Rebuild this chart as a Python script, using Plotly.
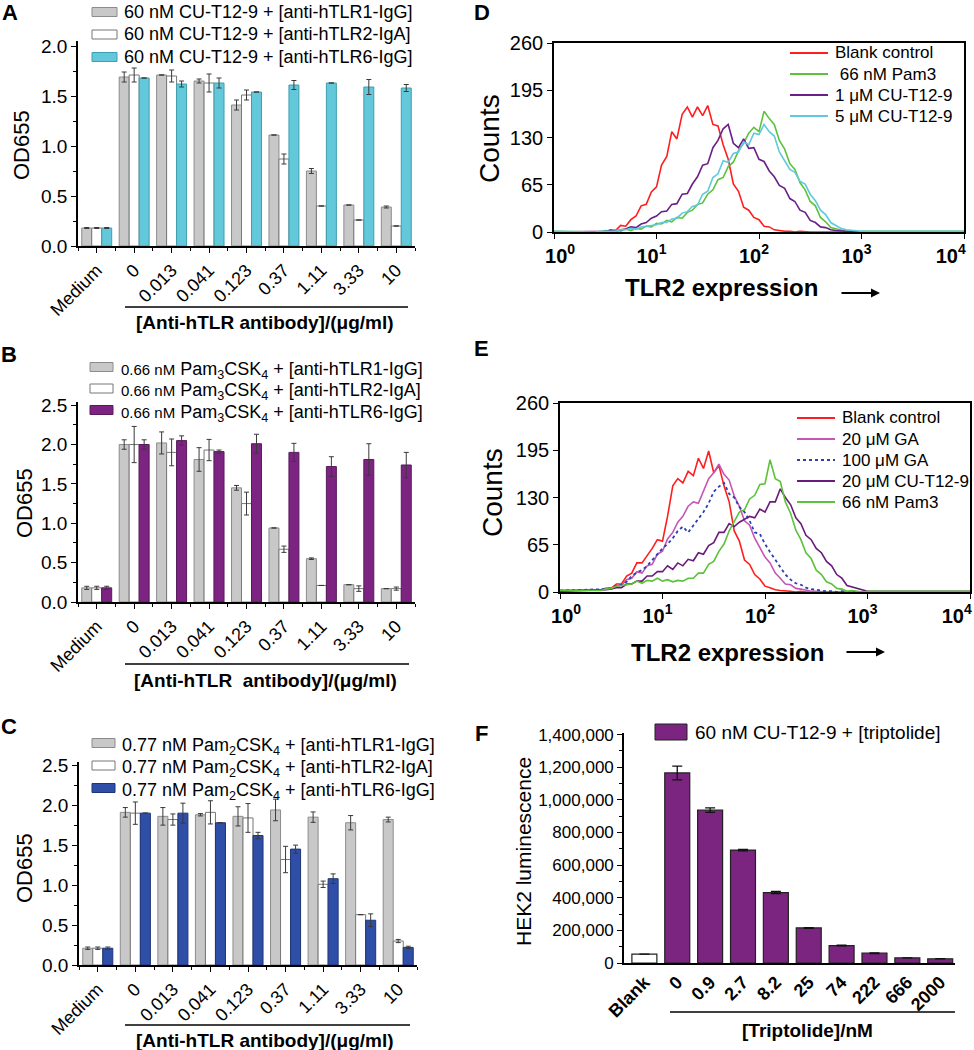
import plotly.graph_objects as go

W, H = 974, 1050
FONT = "Liberation Sans, Arial, sans-serif"

# ---------------- Data: panels A-C (OD655) ----------------
ANTIBODY_CATS = ["Medium", "0", "0.013", "0.041", "0.123", "0.37", "1.11", "3.33", "10"]

A_TLR1 = [0.18, 1.69, 1.71, 1.65, 1.41, 1.11, 0.75, 0.41, 0.39]
A_TLR1_ERR = [0.005, 0.05, 0.0, 0.02, 0.05, 0.0, 0.025, 0.0, 0.01]
A_TLR2 = [0.18, 1.71, 1.70, 1.63, 1.51, 0.87, 0.40, 0.26, 0.20]
A_TLR2_ERR = [0.005, 0.07, 0.06, 0.09, 0.05, 0.05, 0.0, 0.0, 0.0]
A_TLR6 = [0.18, 1.68, 1.62, 1.63, 1.54, 1.61, 1.63, 1.59, 1.58]
A_TLR6_ERR = [0.005, 0.0, 0.03, 0.05, 0.0, 0.045, 0.0, 0.075, 0.035]

B_TLR1 = [0.18, 2.00, 2.02, 1.81, 1.45, 0.94, 0.55, 0.22, 0.17]
B_TLR1_ERR = [0.02, 0.06, 0.14, 0.15, 0.03, 0.0, 0.01, 0.0, 0.0]
B_TLR2 = [0.18, 2.00, 1.90, 1.93, 1.25, 0.67, 0.21, 0.17, 0.17]
B_TLR2_ERR = [0.02, 0.23, 0.17, 0.135, 0.145, 0.04, 0.0, 0.035, 0.02]
B_TLR6 = [0.18, 2.00, 2.05, 1.91, 2.01, 1.90, 1.72, 1.81, 1.74]
B_TLR6_ERR = [0.02, 0.06, 0.06, 0.02, 0.12, 0.115, 0.125, 0.20, 0.16]

C_TLR1 = [0.21, 1.91, 1.86, 1.88, 1.86, 1.94, 1.85, 1.78, 1.82]
C_TLR1_ERR = [0.015, 0.06, 0.11, 0.015, 0.12, 0.135, 0.065, 0.09, 0.03]
C_TLR2 = [0.21, 1.90, 1.82, 1.91, 1.84, 1.32, 1.01, 0.63, 0.30]
C_TLR2_ERR = [0.015, 0.14, 0.07, 0.145, 0.18, 0.165, 0.04, 0.0, 0.02]
C_TLR6 = [0.21, 1.90, 1.90, 1.78, 1.62, 1.45, 1.08, 0.56, 0.22]
C_TLR6_ERR = [0.015, 0.0, 0.125, 0.0, 0.04, 0.05, 0.06, 0.08, 0.015]

# ---------------- Data: panels D-E (flow cytometry histograms) ----------------
INTENSITY = [1, 2.51, 2.82, 3.16, 3.55, 3.98, 4.47, 5.01, 5.62, 6.31, 7.08,
             7.94, 8.91, 10.0, 11.2, 12.6, 14.1, 15.8, 17.8, 20.0, 22.4,
             25.1, 28.2, 31.6, 35.5, 39.8, 44.7, 50.1, 56.2, 63.1, 70.8,
             79.4, 89.1, 100, 112, 126, 141, 158, 178, 200, 224,
             251, 282, 316, 355, 398, 447, 501, 562, 631, 708,
             794, 891, 1000, 10000]

D_BLANK = [0, 0, 1, 0, 3, 2, 9, 8, 17, 22, 36,
           38, 55, 62, 92, 104, 138, 128, 162, 172, 158,
           172, 160, 174, 148, 146, 120, 100, 66, 56, 34,
           30, 20, 17, 8, 7, 3, 2, 1, 1, 0,
           1, 0, 0, 0, 0, 0, 0, 0, 0, 0,
           0, 0, 0, 0]
D_PAM3 = [1, 1, 0, 2, 1, 3, 1, 4, 2, 5, 4,
          8, 7, 12, 11, 16, 14, 20, 19, 27, 30,
          38, 40, 52, 58, 72, 75, 90, 96, 112, 122,
          136, 144, 138, 166, 156, 148, 126, 114, 94, 86,
          68, 58, 42, 36, 20, 14, 6, 4, 2, 1,
          1, 0, 1, 1]
D_CU1 = [0, 0, 1, 1, 2, 1, 3, 4, 7, 6, 11,
         13, 19, 22, 28, 29, 38, 39, 52, 53, 66,
         76, 92, 94, 116, 126, 142, 148, 122, 116, 128,
         115, 116, 100, 97, 84, 76, 64, 60, 46, 42,
         30, 27, 16, 13, 7, 6, 3, 2, 1, 1,
         1, 0, 0, 0]
D_CU5 = [1, 0, 1, 1, 2, 1, 3, 3, 5, 4, 7,
         8, 8, 10, 13, 13, 18, 19, 26, 28, 35,
         37, 52, 56, 75, 80, 98, 96, 108, 110, 124,
         120, 136, 134, 148, 138, 132, 110, 98, 86, 82,
         70, 66, 52, 43, 30, 24, 13, 9, 5, 3,
         2, 1, 1, 1]

E_BLANK = [2, 3, 5, 5, 11, 11, 22, 26, 40, 40, 50,
           60, 72, 70, 104, 146, 156, 150, 166, 160, 184,
           170, 194, 164, 174, 146, 124, 84, 70, 44, 38,
           24, 18, 8, 6, 3, 2, 1, 1, 0, 1,
           0, 0, 0, 0, 0, 0, 0, 0, 0, 0,
           0, 0, 0, 0]
E_GA20 = [2, 3, 5, 4, 9, 9, 17, 19, 28, 26, 36,
          38, 52, 56, 73, 82, 96, 104, 118, 124, 122,
          138, 156, 164, 176, 162, 154, 132, 118, 98, 92,
          74, 62, 48, 40, 26, 19, 11, 10, 5, 4,
          2, 1, 1, 0, 0, 0, 0, 0, 0, 0,
          0, 0, 0, 0]
E_GA100 = [2, 3, 4, 6, 8, 10, 14, 22, 27, 30, 36,
           44, 52, 60, 66, 74, 84, 90, 82, 92, 100,
           110, 122, 138, 145, 150, 135, 130, 117, 110, 98,
           82, 80, 66, 55, 44, 33, 24, 17, 12, 10,
           6, 4, 3, 2, 1, 1, 0, 1, 0, 0,
           0, 0, 0, 0]
E_CU20 = [1, 2, 3, 4, 6, 6, 11, 11, 15, 15, 22,
          22, 28, 28, 36, 31, 40, 36, 45, 43, 54,
          52, 64, 68, 82, 82, 94, 90, 96, 100, 104,
          102, 114, 110, 124, 124, 142, 130, 120, 102, 94,
          78, 72, 60, 54, 42, 36, 24, 19, 9, 7,
          4, 2, 1, 1]
E_PAM3 = [2, 2, 4, 5, 8, 9, 11, 11, 15, 12, 16,
          15, 19, 15, 17, 14, 16, 15, 19, 19, 26,
          26, 38, 42, 56, 66, 84, 96, 110, 113, 128,
          133, 148, 149, 182, 156, 152, 124, 108, 85, 72,
          54, 46, 30, 24, 14, 11, 5, 4, 1, 2,
          1, 0, 1, 1]

# ---------------- Data: panel F ----------------
F_CATS = ["Blank", "0", "0.9", "2.7", "8.2", "25", "74", "222", "666", "2000"]
F_VALUES = [55000, 1165000, 937000, 692000, 432000, 215000, 107000, 60000, 31000, 26000]
F_ERR = [0, 42000, 14000, 5000, 7000, 2000, 2000, 2000, 0, 0]

# ---------------- Styles ----------------
GREY, GREY_EDGE = "#C8C8C8", "#8C8C8C"
WHITE, WHITE_EDGE = "#FFFFFF", "#777777"
CYAN, CYAN_EDGE = "#63C8D9", "#3E9FB0"
PURPLE, PURPLE_EDGE = "#7D2482", "#581A5C"
BLUE, BLUE_EDGE = "#2F4EA7", "#1E3576"
F_FILL, F_EDGE = "#7B2480", "#222222"

RED_L, GREEN_L, PURPLE_L, CYAN_L = "#FF1E1E", "#5CC23A", "#6C1F86", "#5FC9E0"
PINK_L, BLUEDOT_L, PURPLE2_L = "#C456B6", "#2B3FAE", "#6A1A78"


def xd(a, b):
    return [a / W, b / W]


def yd(top, bottom):
    return [1 - bottom / H, 1 - top / H]


fig = go.Figure()

bar_panels = [
    ("x", "y", [(A_TLR1, A_TLR1_ERR, GREY, GREY_EDGE), (A_TLR2, A_TLR2_ERR, WHITE, WHITE_EDGE),
                (A_TLR6, A_TLR6_ERR, CYAN, CYAN_EDGE)]),
    ("x2", "y2", [(B_TLR1, B_TLR1_ERR, GREY, GREY_EDGE), (B_TLR2, B_TLR2_ERR, WHITE, WHITE_EDGE),
                  (B_TLR6, B_TLR6_ERR, PURPLE, PURPLE_EDGE)]),
    ("x3", "y3", [(C_TLR1, C_TLR1_ERR, GREY, GREY_EDGE), (C_TLR2, C_TLR2_ERR, WHITE, WHITE_EDGE),
                  (C_TLR6, C_TLR6_ERR, BLUE, BLUE_EDGE)]),
]
idx = list(range(len(ANTIBODY_CATS)))
for xa, ya, series in bar_panels:
    for vals, errs, fill, edge in series:
        fig.add_trace(go.Bar(
            x=idx, y=vals, xaxis=xa, yaxis=ya, showlegend=False,
            marker=dict(color=fill, line=dict(color=edge, width=1)),
            error_y=dict(type="data", array=errs, color="#3a3a3a", thickness=1, width=2.5),
        ))

for ys, color, dash in [(D_BLANK, RED_L, "solid"), (D_PAM3, GREEN_L, "solid"),
                        (D_CU1, PURPLE_L, "solid"), (D_CU5, CYAN_L, "solid")]:
    fig.add_trace(go.Scatter(x=INTENSITY, y=ys, mode="lines", xaxis="x4", yaxis="y4",
                             line=dict(color=color, width=1.6, dash=dash), showlegend=False))

for ys, color, dash in [(E_BLANK, RED_L, "solid"), (E_GA20, PINK_L, "solid"),
                        (E_GA100, BLUEDOT_L, "dot"), (E_CU20, PURPLE2_L, "solid"),
                        (E_PAM3, GREEN_L, "solid")]:
    fig.add_trace(go.Scatter(x=INTENSITY, y=ys, mode="lines", xaxis="x5", yaxis="y5",
                             line=dict(color=color, width=1.8 if dash == "dot" else 1.6, dash=dash),
                             showlegend=False))

fig.add_trace(go.Bar(
    x=F_CATS, y=F_VALUES, xaxis="x6", yaxis="y6", showlegend=False, width=0.76,
    marker=dict(color=[WHITE] + [F_FILL] * (len(F_CATS) - 1), line=dict(color=F_EDGE, width=1.2)),
    error_y=dict(type="data", array=F_ERR, color="#111111", thickness=1.3, width=5),
))

axis_line = dict(showline=True, linecolor="black", linewidth=1.6, showgrid=False, zeroline=False,
                 ticks="outside", tickcolor="black", tickwidth=1.4, ticklen=5)

layout = dict(
    width=W, height=H, margin=dict(l=0, r=0, t=0, b=0, pad=0, autoexpand=False),
    paper_bgcolor="white", plot_bgcolor="white",
    showlegend=False, barmode="group", bargap=0.2, bargroupgap=0.0,
    font=dict(family=FONT, color="black"),
)

bar_geom = [("", 78, 415, 41, 246, 2.05), ("2", 78, 415, 402, 602, 2.54), ("3", 79, 417, 762, 965, 2.54)]
for suf, x0, x1, top, bot, ymax in bar_geom:
    layout["xaxis" + suf] = dict(
        axis_line, domain=xd(x0, x1), anchor="y" + suf, range=[-0.5, 8.5],
        tickmode="array", tickvals=idx, ticktext=ANTIBODY_CATS, tickangle=-45,
        tickfont=dict(size=18, family=FONT),
        minor=dict(ticks="outside", tick0=0.5, dtick=1, ticklen=3, tickwidth=1.2, tickcolor="black"),
    )
    layout["yaxis" + suf] = dict(
        axis_line, domain=yd(top, bot), anchor="x" + suf, range=[0, ymax],
        dtick=0.5, tick0=0, tickformat=".1f", tickfont=dict(size=19, family=FONT),
        minor=dict(ticks="outside", tick0=0, dtick=0.25, ticklen=3, tickwidth=1.2, tickcolor="black"),
    )

NB = "\u00a0"
decade_text = [NB * 4 + "10<sup>0</sup>", "10<sup>1</sup>", "10<sup>2</sup>", "10<sup>3</sup>",
               "10<sup>4</sup>" + NB * 3]
for suf, x0, x1, top, bot in [("4", 554, 964, 43, 232), ("5", 560, 970, 403, 592)]:
    layout["xaxis" + suf] = dict(
        axis_line, domain=xd(x0, x1), anchor="y" + suf, type="log", range=[0, 4], mirror=True,
        tickmode="array", tickvals=[1, 10, 100, 1000, 10000], ticktext=decade_text,
        tickfont=dict(size=20, family=FONT, weight="bold"), ticklabeloverflow="allow",
        ticklabelshift=-5,
    )
    layout["yaxis" + suf] = dict(
        axis_line, domain=yd(top, bot), anchor="x" + suf, range=[0, 260], mirror=True,
        tickmode="array", tickvals=[0, 65, 130, 195, 260], tickfont=dict(size=20, family=FONT),
    )

layout["xaxis6"] = dict(
    axis_line, domain=xd(624, 955), anchor="y6", type="category", range=[-0.62, 9.45], ticks="",
    tickangle=-45, tickfont=dict(size=18, family=FONT, weight="bold"),
)
layout["yaxis6"] = dict(
    axis_line, domain=yd(733, 963), anchor="x6", range=[0, 1410000], dtick=200000, tick0=0,
    tickformat=",d", tickfont=dict(size=17, family=FONT),
    minor=dict(ticks="outside", tick0=0, dtick=100000, ticklen=3, tickwidth=1.2, tickcolor="black"),
)

annotations = []
shapes = []


def ann(text, x, y, size, xanchor="left", yanchor="middle", bold=False, angle=0):
    annotations.append(dict(
        text=text, x=x / W, y=1 - y / H, xref="paper", yref="paper",
        xanchor=xanchor, yanchor=yanchor, showarrow=False, textangle=angle,
        font=dict(family=FONT, size=size, color="black", weight="bold" if bold else "normal"),
    ))


def rect(x0, x1, yc, h, fill, edge):
    shapes.append(dict(type="rect", xref="paper", yref="paper", x0=x0 / W, x1=x1 / W,
                       y0=1 - (yc + h / 2) / H, y1=1 - (yc - h / 2) / H,
                       fillcolor=fill, line=dict(color=edge, width=1)))


def hline(x0, x1, y, color="black", width=1.5, dash="solid"):
    shapes.append(dict(type="line", xref="paper", yref="paper", x0=x0 / W, x1=x1 / W,
                       y0=1 - y / H, y1=1 - y / H, line=dict(color=color, width=width, dash=dash)))


# panel letters
for letter, x, y in [("A", 10, 12), ("B", 9, 354), ("C", 9, 726), ("D", 482, 12), ("E", 481, 348), ("F", 481, 733)]:
    ann(letter, x, y, 22, xanchor="center", bold=True)

# legend A
legA = [("60 nM CU-T12-9 + [anti-hTLR1-IgG]", GREY, GREY_EDGE),
        ("60 nM CU-T12-9 + [anti-hTLR2-IgA]", WHITE, WHITE_EDGE),
        ("60 nM CU-T12-9 + [anti-hTLR6-IgG]", CYAN, CYAN_EDGE)]
for i, (t, f, e) in enumerate(legA):
    yc = 12 + 22.5 * i
    rect(92, 117, yc, 9, f, e)
    ann(t, 122, yc, 18)

# legend B
small = "<span style='font-size:15px'>0.66 nM</span> "
legB = [(small + "Pam<sub>3</sub>CSK<sub>4</sub> + [anti-hTLR1-IgG]", GREY, GREY_EDGE),
        (small + "Pam<sub>3</sub>CSK<sub>4</sub> + [anti-hTLR2-IgA]", WHITE, WHITE_EDGE),
        (small + "Pam<sub>3</sub>CSK<sub>4</sub> + [anti-hTLR6-IgG]", PURPLE, PURPLE_EDGE)]
for i, (t, f, e) in enumerate(legB):
    yc = 367 + 21.5 * i
    rect(90, 113, yc, 9, f, e)
    ann(t, 119, yc + 3, 18)

# legend C
legC = [("0.77 nM Pam<sub>2</sub>CSK<sub>4</sub> + [anti-hTLR1-IgG]", GREY, GREY_EDGE),
        ("0.77 nM Pam<sub>2</sub>CSK<sub>4</sub> + [anti-hTLR2-IgA]", WHITE, WHITE_EDGE),
        ("0.77 nM Pam<sub>2</sub>CSK<sub>4</sub> + [anti-hTLR6-IgG]", BLUE, BLUE_EDGE)]
for i, (t, f, e) in enumerate(legC):
    yc = 743 + 22.5 * i
    rect(92, 115, yc, 9, f, e)
    ann(t, 120, yc + 3, 18)

# legend D
legD = [("Blank control", RED_L, "solid"), (" 66 nM Pam3", GREEN_L, "solid"),
        ("1 \u03bcM CU-T12-9", PURPLE_L, "solid"), ("5 \u03bcM CU-T12-9", CYAN_L, "solid")]
for i, (t, c, d) in enumerate(legD):
    yc = 53 + 21 * i
    hline(790, 828, yc, c, 2, d)
    ann(t, 833, yc, 17)

# legend E
legE = [("Blank control", RED_L, "solid"), ("20 \u03bcM GA", PINK_L, "solid"),
        ("100 \u03bcM GA", BLUEDOT_L, "dot"), ("20 \u03bcM CU-T12-9", PURPLE2_L, "solid"),
        ("66 nM Pam3", GREEN_L, "solid")]
for i, (t, c, d) in enumerate(legE):
    yc = 418 + 21 * i
    hline(797, 835, yc, c, 2, d)
    ann(t, 840, yc, 17)

# legend F
rect(655, 687, 732, 16, F_FILL, F_EDGE)
ann("60 nM CU-T12-9 + [triptolide]", 693, 732, 19)

# axis titles
ann("OD655", 22, 145, 22, xanchor="center", angle=-90)
ann("OD655", 24, 503, 22, xanchor="center", angle=-90)
ann("OD655", 24, 868, 22, xanchor="center", angle=-90)
ann("Counts", 489, 139, 28, xanchor="center", angle=-90)
ann("Counts", 493, 493, 28, xanchor="center", angle=-90)
ann("HEK2 luminescence", 523, 852, 21, xanchor="center", angle=-90)

ann("[Anti-hTLR antibody]/(\u03bcg/ml)", 265, 322, 19, xanchor="center", bold=True)
ann("[Anti-hTLR&nbsp; antibody]/(\u03bcg/ml)", 265, 680, 19, xanchor="center", bold=True)
ann("[Anti-hTLR antibody]/(\u03bcg/ml)", 265, 1040, 19, xanchor="center", bold=True)
ann("TLR2 expression", 721, 288, 24, xanchor="center", bold=True)
ann("TLR2 expression", 727, 652, 24, xanchor="center", bold=True)
ann("[Triptolide]/nM", 807, 1030, 19, xanchor="center", bold=True)

# underlines for the concentration groups
hline(125, 408, 307)
hline(125, 409, 664)
hline(125, 410, 1025)
hline(670, 955, 1012)

# arrows after "TLR2 expression"
for x_end, y in [(880, 293), (885, 652)]:
    annotations.append(dict(
        x=x_end / W, y=1 - y / H, xref="paper", yref="paper", ax=-40, ay=0,
        axref="pixel", ayref="pixel", text="", showarrow=True,
        arrowhead=2, arrowsize=1, arrowwidth=1.8, arrowcolor="black",
    ))

layout["annotations"] = annotations
layout["shapes"] = shapes
fig.update_layout(**layout)

fig.write_html(
    "out.html",
    config={"displayModeBar": False},
    post_script="document.body.style.margin='0';document.body.style.overflow='hidden';",
)
